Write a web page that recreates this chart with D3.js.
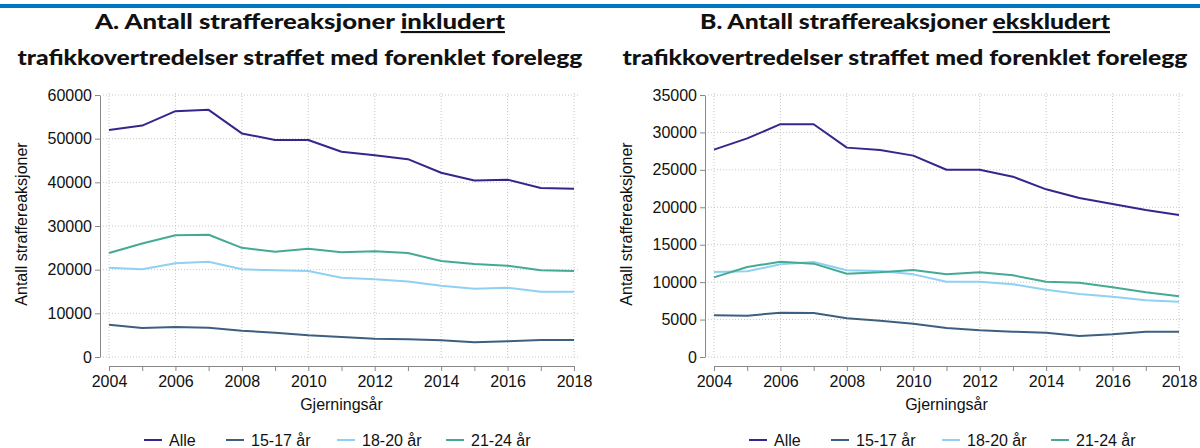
<!DOCTYPE html>
<html>
<head>
<meta charset="utf-8">
<script src="https://cdn.jsdelivr.net/npm/d3@7"></script>
<style>
  body { margin: 0; background: #fff; }
  text { font-family: "Liberation Sans", Arial, sans-serif; fill: #111; }
  .title { font-family: Lato, "Noto Sans", sans-serif; font-weight: 900; font-size: 21px; }
  .tick-label { font-size: 16px; }
  .axis-title { font-size: 16px; }
  .legend-label { font-size: 16px; }
</style>
</head>
<body>
<div id="chart"></div>
<script>
// 1. Data

const years = d3.range(2004, 2019)
const seriesNames = ["Alle", "15-17 år", "18-20 år", "21-24 år"]
const seriesColors = ["#34278c", "#3d6080", "#8fd1f3", "#45aa94"]

// panel A: inkludert forenklet forelegg
const alleA   = [52000, 53000, 56300, 56600, 51200, 49700, 49700, 47000, 46200, 45300, 42200, 40400, 40600, 38700, 38550]
const age1517A = [7400, 6650, 6870, 6700, 6020, 5570, 4960, 4580, 4200, 4050, 3820, 3360, 3590, 3890, 3890]
const age1820A = [20450, 20100, 21450, 21800, 20100, 19850, 19700, 18150, 17800, 17300, 16300, 15650, 15850, 14950, 14950]
const age2124A = [23800, 26000, 27900, 28000, 25000, 24100, 24800, 24000, 24200, 23800, 22000, 21300, 20900, 19850, 19700]

// panel B: ekskludert forenklet forelegg
const alleB   = [27700, 29200, 31100, 31100, 27970, 27650, 26900, 25020, 25020, 24090, 22400, 21240, 20440, 19640, 18970]
const age1517B = [5570, 5520, 5920, 5880, 5170, 4850, 4450, 3870, 3560, 3380, 3250, 2800, 3030, 3380, 3380]
const age1820B = [11350, 11450, 12380, 12690, 11580, 11490, 11040, 10060, 10060, 9710, 8990, 8410, 8060, 7570, 7390]
const age2124B = [10640, 12020, 12730, 12470, 11130, 11310, 11620, 11040, 11310, 10910, 10060, 9930, 9310, 8640, 8110]

const yTicksA = [0, 10000, 20000, 30000, 40000, 50000, 60000]
const yTicksB = [0, 5000, 10000, 15000, 20000, 25000, 30000, 35000]
const xTickLabels = [2004, 2006, 2008, 2010, 2012, 2014, 2016, 2018]

const panels = [
  {
    titleStart: "A. Antall straffereaksjoner ",
    titleUnder: "inkludert",
    series: [alleA, age1517A, age1820A, age2124A],
    yMax: 60000,
    yTicks: yTicksA,
    offsetX: 0,
  },
  {
    titleStart: "B. Antall straffereaksjoner ",
    titleUnder: "ekskludert",
    series: [alleB, age1517B, age1820B, age2124B],
    yMax: 35000,
    yTicks: yTicksB,
    offsetX: 605,
  },
]

// 2. Dimensions

const dimensions = {
  width: 1200,
  height: 448,
  plotLeft: 109,
  plotRight: 574,
  plotTop: 95,
  plotBottom: 357,
  yAxisX: 100,
  xAxisY: 366,
}

// 3. Canvas

const svg = d3.select("#chart")
  .append("svg")
    .attr("width", dimensions.width)
    .attr("height", dimensions.height)

svg.append("rect")
    .attr("x", 0)
    .attr("y", 4)
    .attr("width", dimensions.width)
    .attr("height", 4)
    .attr("fill", "#0077c1")

panels.forEach(panel => {
  const g = svg.append("g")
      .attr("transform", `translate(${panel.offsetX},0)`)

  // 4. Scales
  const xScale = d3.scaleLinear()
      .domain([2004, 2018])
      .range([dimensions.plotLeft, dimensions.plotRight])

  const yScale = d3.scaleLinear()
      .domain([0, panel.yMax])
      .range([dimensions.plotBottom, dimensions.plotTop])

  // titles
  const centerX = 300
  const t1 = g.append("text")
      .attr("class", "title")
      .attr("x", centerX)
      .attr("y", 29)
      .attr("text-anchor", "middle")
      .attr("textLength", 410)
      .attr("lengthAdjust", "spacingAndGlyphs")
  t1.append("tspan").text(panel.titleStart)
  t1.append("tspan")
      .style("text-decoration", "underline")
      .text(panel.titleUnder)

  g.append("text")
      .attr("class", "title")
      .attr("x", centerX)
      .attr("y", 65)
      .attr("text-anchor", "middle")
      .attr("textLength", 565)
      .attr("lengthAdjust", "spacingAndGlyphs")
      .text("trafikkovertredelser straffet med forenklet forelegg")

  // grid
  g.append("g")
    .selectAll("line")
    .data(panel.yTicks)
    .enter().append("line")
      .attr("x1", dimensions.plotLeft - 6)
      .attr("x2", dimensions.plotRight + 6)
      .attr("y1", d => yScale(d))
      .attr("y2", d => yScale(d))
      .attr("stroke", "#c8c8c8")
      .attr("stroke-width", 1)
      .attr("stroke-dasharray", "1,2")

  g.append("g")
    .selectAll("line")
    .data(xTickLabels)
    .enter().append("line")
      .attr("x1", d => xScale(d))
      .attr("x2", d => xScale(d))
      .attr("y1", dimensions.plotTop - 2)
      .attr("y2", dimensions.plotBottom + 2)
      .attr("stroke", "#c8c8c8")
      .attr("stroke-width", 1)
      .attr("stroke-dasharray", "1,2")

  // y axis
  const yAxis = d3.axisLeft(yScale)
      .tickValues(panel.yTicks)
      .tickSize(5)
      .tickSizeOuter(0)
      .tickFormat(d3.format("d"))
  const yAxisGroup = g.append("g")
      .attr("transform", `translate(${dimensions.yAxisX},0)`)
      .call(yAxis)
  yAxisGroup.select(".domain").attr("stroke", "#888")
  yAxisGroup.selectAll(".tick line").attr("stroke", "#888")
  yAxisGroup.selectAll(".tick text")
      .attr("class", "tick-label")
      .attr("x", -8)
      .style("font-family", null)
      .style("font-size", "16px")
      .attr("font-family", null)
      .attr("font-size", null)
      .attr("fill", "#111")

  // x axis
  const xAxis = d3.axisBottom(xScale)
      .tickValues(years)
      .tickSize(5)
      .tickSizeOuter(0)
      .tickFormat(d => xTickLabels.includes(d) ? d : "")
  const xAxisGroup = g.append("g")
      .attr("transform", `translate(0,${dimensions.xAxisY})`)
      .call(xAxis)
  xAxisGroup.select(".domain").attr("stroke", "#888")
  xAxisGroup.selectAll(".tick line").attr("stroke", "#888")
  xAxisGroup.selectAll(".tick text")
      .attr("class", "tick-label")
      .attr("y", 10)
      .attr("font-family", null)
      .attr("font-size", null)
      .attr("fill", "#111")

  // axis titles
  g.append("text")
      .attr("class", "axis-title")
      .attr("transform", `translate(27,${(dimensions.plotTop + dimensions.plotBottom) / 2 - 2}) rotate(-90)`)
      .attr("text-anchor", "middle")
      .text("Antall straffereaksjoner")

  g.append("text")
      .attr("class", "axis-title")
      .attr("x", (dimensions.plotLeft + dimensions.plotRight) / 2)
      .attr("y", 410)
      .attr("text-anchor", "middle")
      .text("Gjerningsår")

  // 5. Lines
  const lineGenerator = d3.line()
      .x((d, i) => xScale(years[i]))
      .y(d => yScale(d))

  g.append("g")
    .selectAll("path")
    .data(panel.series)
    .enter().append("path")
      .attr("d", lineGenerator)
      .attr("fill", "none")
      .attr("stroke", (d, i) => seriesColors[i])
      .attr("stroke-width", 2)
      .attr("stroke-linejoin", "round")

  // 6. Legend
  const legendX = [144, 226, 337, 446]
  const legend = g.append("g")
      .selectAll("g")
      .data(seriesNames)
      .enter().append("g")
        .attr("transform", (d, i) => `translate(${legendX[i]},440)`)

  legend.append("line")
      .attr("x1", 0)
      .attr("x2", 18)
      .attr("stroke", (d, i) => seriesColors[i])
      .attr("stroke-width", 2)

  legend.append("text")
      .attr("class", "legend-label")
      .attr("x", 25)
      .attr("dy", "0.35em")
      .text(d => d)
})
</script>
</body>
</html>
